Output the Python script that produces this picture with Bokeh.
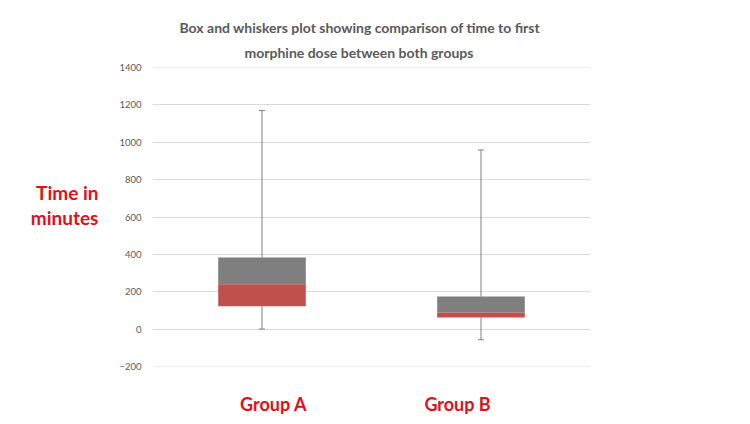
from bokeh.plotting import figure
from bokeh.models import (ColumnDataSource, Whisker, TeeHead, FixedTicker, Title,
                          CustomJSTickFormatter)
from bokeh.embed import file_html
from bokeh.resources import INLINE

groups = ["Group A", "Group B"]
w_min = [0, -57]
q1 = [122, 62]
median = [240, 89]
q3 = [383, 174]
w_max = [1170, 959]
y_ticks = [-200, 0, 200, 400, 600, 800, 1000, 1200, 1400]
title_lines = ["Box and whiskers plot showing comparison of time to first",
               "morphine dose between both groups"]
y_label_text = "Time in\nminutes\n"

FONT = "Lato"
RED = "#e0101a"

xpos = [i + 0.5 for i in range(len(groups))]  # slot centres on a 0..N axis

p = figure(x_range=(0, len(groups)), y_range=(-200.5, 1400.5), width=734, height=418,
           output_backend="svg", toolbar_location=None,
           min_border_left=152, min_border_right=144,
           min_border_top=67, min_border_bottom=52)
p.outline_line_color = None
p.xgrid.grid_line_color = None
p.ygrid.grid_line_color = "#d9d9d9"
p.ygrid.grid_line_width = 1

# group labels placed slightly off the box centres, as in the original
p.xaxis.ticker = FixedTicker(ticks=[0.553, 1.393])
p.xaxis.formatter = CustomJSTickFormatter(args=dict(names=groups),
                                          code="return names[index];")
p.xaxis.axis_line_color = None
p.xaxis.major_tick_line_color = None
p.xaxis.minor_tick_line_color = None
p.xaxis.major_label_text_color = RED
p.xaxis.major_label_text_font = FONT
p.xaxis.major_label_text_font_style = "bold"
p.xaxis.major_label_text_font_size = "18px"
p.xaxis.major_label_standoff = 20

p.yaxis.ticker = FixedTicker(ticks=y_ticks)
p.yaxis.axis_line_color = None
p.yaxis.major_tick_line_color = None
p.yaxis.minor_tick_line_color = None
p.yaxis.major_label_text_color = "#595959"
p.yaxis.major_label_text_font = FONT
p.yaxis.major_label_text_font_size = "9.5px"
p.yaxis.major_label_standoff = 5

p.yaxis.axis_label_orientation = "horizontal"
p.yaxis.axis_label = y_label_text
p.yaxis.axis_label_text_color = RED
p.yaxis.axis_label_text_font = FONT
p.yaxis.axis_label_text_font_style = "bold"
p.yaxis.axis_label_text_font_size = "19px"
p.yaxis.axis_label_text_line_height = 1.05
p.yaxis.axis_label_standoff = 18
p.yaxis.axis_label_text_align = "left"

src = ColumnDataSource(dict(x=xpos, lo=w_min, q1=q1, med=median, q3=q3, hi=w_max))

p.add_layout(Whisker(base="x", lower="q3", upper="hi", source=src,
                     line_color="#7f7f7f", line_width=1,
                     upper_head=TeeHead(size=6, line_color="#7f7f7f", line_width=1),
                     lower_head=None))
p.add_layout(Whisker(base="x", lower="lo", upper="q1", source=src,
                     line_color="#7f7f7f", line_width=1,
                     lower_head=TeeHead(size=6, line_color="#7f7f7f", line_width=1),
                     upper_head=None))

p.vbar(x="x", width=0.4, bottom="med", top="q3", source=src,
       fill_color="#7f7f7f", line_color=None)
p.vbar(x="x", width=0.4, bottom="q1", top="med", source=src,
       fill_color="#c0504d", line_color=None)

# title: add the second line first so it sits closest to the plot
p.add_layout(Title(text=title_lines[1], align="left", offset=92, text_font=FONT,
                   text_font_style="bold", text_font_size="14px",
                   text_color="#595959", standoff=13), "above")
p.add_layout(Title(text=title_lines[0], align="left", offset=27, text_font=FONT,
                   text_font_style="bold", text_font_size="14px",
                   text_color="#595959", standoff=0), "above")

open("out.html", "w").write(file_html(p, INLINE))
